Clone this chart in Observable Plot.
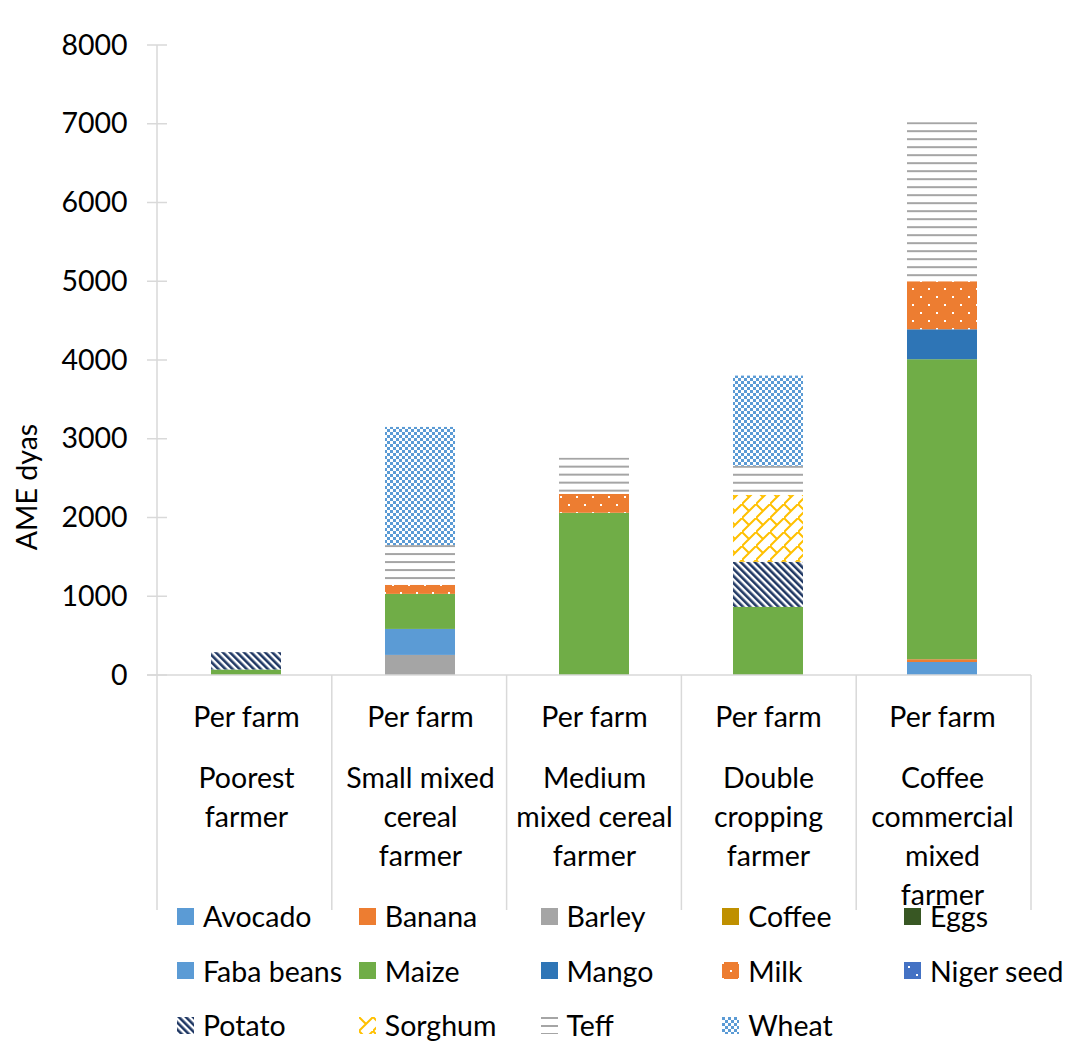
<!DOCTYPE html>
<html>
<head>
<meta charset="utf-8">
<script src="https://cdn.jsdelivr.net/npm/d3@7"></script>
<script src="https://cdn.jsdelivr.net/npm/@observablehq/plot@0.6"></script>
<style>
  body { margin: 0; background: #fff; }
  #wrap { position: relative; width: 1071px; height: 1043px; font-family: Lato, "Noto Sans", sans-serif; color: #000; }
  #legend { position: absolute; left: 177px; top: 889px; display: grid; grid-template-columns: repeat(5, 181.75px); grid-auto-rows: 54.5px; align-items: center; font-size: 28.5px; }
  .item { display: flex; align-items: center; white-space: nowrap; }
  .item svg { margin-right: 9px; flex: none; }
</style>
</head>
<body>
<div id="wrap">
  <div id="chart"></div>
  <div id="legend"></div>
</div>
<script>
// ---- data ----
const groups = ["Poorest farmer", "Small mixed cereal farmer", "Medium mixed cereal farmer", "Double cropping farmer", "Coffee commercial mixed farmer"];
const groupLabels = ["Poorest\nfarmer", "Small mixed\ncereal\nfarmer", "Medium\nmixed cereal\nfarmer", "Double\ncropping\nfarmer", "Coffee\ncommercial\nmixed\nfarmer"];
const subLabel = "Per farm";
const series = ["Avocado", "Banana", "Barley", "Coffee", "Eggs", "Faba beans", "Maize", "Mango", "Milk", "Niger seed", "Potato", "Sorghum", "Teff", "Wheat"];
const avocado   = [0, 0, 0, 0, 165];
const banana    = [0, 0, 0, 0, 35];
const barley    = [0, 255, 0, 0, 0];
const coffee    = [0, 0, 0, 0, 0];
const eggs      = [0, 0, 0, 0, 0];
const fabaBeans = [0, 330, 0, 0, 0];
const maize     = [70, 445, 2060, 865, 3810];
const mango     = [0, 0, 0, 0, 380];
const milk      = [0, 115, 240, 0, 610];
const nigerSeed = [0, 0, 0, 0, 0];
const potato    = [220, 0, 0, 572, 0];
const sorghum   = [0, 0, 0, 850, 0];
const teff      = [0, 505, 460, 370, 2020];
const wheat     = [0, 1500, 0, 1145, 0];
const yTicks = [0, 1000, 2000, 3000, 4000, 5000, 6000, 7000, 8000];
const yLabel = "AME dyas";

const valuesBySeries = [avocado, banana, barley, coffee, eggs, fabaBeans, maize, mango, milk, nigerSeed, potato, sorghum, teff, wheat];

// ---- styles (fills, incl. SVG patterns) ----
const fills = ["#5B9BD5", "#ED7D31", "#A5A5A5", "#BF9000", "#385723", "#5B9BD5", "#70AD47", "#2E75B6",
  "url(#p-milk)", "url(#p-niger)", "url(#p-potato)", "url(#p-sorghum)", "url(#p-teff)", "url(#p-wheat)"];
const FS = 28.5;

const defsSvg = d3.select("#wrap").insert("svg", ":first-child")
  .attr("width", 0).attr("height", 0).style("position", "absolute");
const defs = defsSvg.append("defs");
function pattern(id, w, h, transform) {
  const p = defs.append("pattern").attr("id", id).attr("patternUnits", "userSpaceOnUse")
    .attr("width", w).attr("height", h);
  if (transform) p.attr("patternTransform", transform);
  return p;
}
{ // milk
  const p = pattern("p-milk", 16, 16);
  p.append("rect").attr("width", 16).attr("height", 16).attr("fill", "#ED7D31");
  p.append("rect").attr("x", 0).attr("y", 0).attr("width", 2).attr("height", 2).attr("fill", "#fff");
  p.append("rect").attr("x", 8).attr("y", 8).attr("width", 2).attr("height", 2).attr("fill", "#fff");
}
{ // niger seed
  const p = pattern("p-niger", 16, 16);
  p.append("rect").attr("width", 16).attr("height", 16).attr("fill", "#4472C4");
  p.append("rect").attr("x", 4).attr("y", 4).attr("width", 2).attr("height", 2).attr("fill", "#fff");
  p.append("rect").attr("x", 12).attr("y", 12).attr("width", 2).attr("height", 2).attr("fill", "#fff");
}
{ // potato
  const p = pattern("p-potato", 5, 5, "rotate(-45)");
  p.append("rect").attr("width", 5).attr("height", 5).attr("fill", "#fff");
  p.append("rect").attr("width", 2.6).attr("height", 5).attr("fill", "#203864");
}
{ // sorghum
  const p = pattern("p-sorghum", 14, 14);
  p.append("rect").attr("width", 14).attr("height", 14).attr("fill", "#fff");
  p.append("path").attr("d", "M-1,15 L15,-1 M0,0 L7,7").attr("stroke", "#FFC000").attr("stroke-width", 2).attr("fill", "none");
}
function teffPattern(id, y0) {
  const p = pattern(id, 8, 8);
  if (y0 != null) p.attr("y", y0);
  p.append("rect").attr("width", 8).attr("height", 8).attr("fill", "#fff");
  p.append("rect").attr("y", 0).attr("width", 8).attr("height", 2).attr("fill", "#A5A5A5");
}
teffPattern("p-teff");
{ // wheat
  const p = pattern("p-wheat", 6, 6);
  p.append("rect").attr("width", 6).attr("height", 6).attr("fill", "#fff");
  p.append("rect").attr("width", 3).attr("height", 3).attr("fill", "#5B9BD5");
  p.append("rect").attr("x", 3).attr("y", 3).attr("width", 3).attr("height", 3).attr("fill", "#5B9BD5");
}

// ---- long data ----
const rows = [];
series.forEach((s, si) => {
  groups.forEach((g, gi) => {
    const v = valuesBySeries[si][gi];
    if (v > 0) rows.push({group: g, series: s, value: v});
  });
});

const axisColor = "#D9D9D9";
const sepLen = 235;

function decorations(index, scales, values, dims) {
  const g = d3.create("svg:g");
  const {y} = scales;
  const x0 = dims.marginLeft, x1 = dims.width - dims.marginRight;
  const yb = y(0), yt = y(yTicks[yTicks.length - 1]);
  const step = (x1 - x0) / groups.length;
  g.append("line").attr("x1", x0).attr("x2", x0).attr("y1", yt).attr("y2", yb).attr("stroke", axisColor).attr("stroke-width", 1.5);
  for (const t of yTicks) {
    g.append("line").attr("x1", x0 - 10).attr("x2", x0 + 10).attr("y1", y(t)).attr("y2", y(t)).attr("stroke", axisColor).attr("stroke-width", 1.5);
  }
  g.append("line").attr("x1", x0 - 10).attr("x2", x1).attr("y1", yb).attr("y2", yb).attr("stroke", axisColor).attr("stroke-width", 1.5);
  const edges = [x0, ...groups.map((_, i) => x0 + step * (i + 1))];
  for (const e of edges) {
    g.append("line").attr("x1", e).attr("x2", e).attr("y1", yb).attr("y2", yb + sepLen).attr("stroke", axisColor).attr("stroke-width", 1.5);
  }
  g.append("text").attr("transform", `translate(27,487) rotate(-90)`).attr("text-anchor", "middle")
    .attr("dy", "0.35em").attr("font-size", FS).attr("fill", "#000").text(yLabel);
  return g.node();
}

const chart = Plot.plot({
  width: 1071,
  height: 915,
  marginLeft: 157,
  marginRight: 40,
  marginTop: 45,
  marginBottom: 240,
  style: {fontFamily: "Lato, 'Noto Sans', sans-serif", fontSize: FS + "px", color: "#000", overflow: "visible", background: "transparent"},
  x: {domain: groups, paddingInner: 0.6, paddingOuter: 0.3, axis: null},
  y: {domain: [0, 8000], axis: null},
  color: {domain: series, range: fills},
  marks: [
    Plot.barY(rows, Plot.stackY({x: "group", y: "value", fill: "series"})),
    decorations,
    Plot.axisY(yTicks, {tickSize: 0, tickPadding: 30, fontSize: FS, label: null, fill: "#000", tickFormat: d => String(d)}),
    Plot.text(groups, {x: d => d, text: () => subLabel, frameAnchor: "bottom", lineAnchor: "top", dy: 31, fontSize: FS, fill: "#000"}),
    Plot.text(groups, {x: d => d, text: (d, i) => groupLabels[i], frameAnchor: "bottom", lineAnchor: "top", dy: 85, lineHeight: 39 / FS, fontSize: FS, fill: "#000"})
  ]
});
document.getElementById("chart").appendChild(chart);

// align teff line pattern with the top of each teff block
d3.select(chart).selectAll("rect").each(function(_, i) {
  const r = d3.select(this);
  if (r.attr("fill") === "url(#p-teff)") {
    const id = "p-teff-" + i;
    teffPattern(id, +r.attr("y"));
    r.attr("fill", `url(#${id})`);
  }
});

// ---- legend ----
const legend = d3.select("#legend");
series.forEach((s, i) => {
  const it = legend.append("div").attr("class", "item");
  const sw = it.append("svg").attr("width", 17).attr("height", 17);
  sw.append("rect").attr("width", 17).attr("height", 17).attr("fill", fills[i]);
  it.append("span").text(s);
});
</script>
</body>
</html>
